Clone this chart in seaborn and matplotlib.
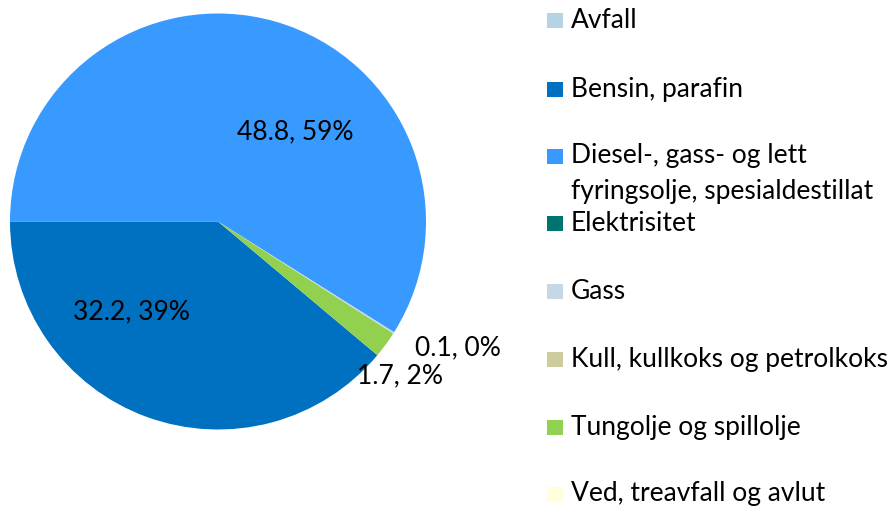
import matplotlib
matplotlib.use('Agg')
import matplotlib.pyplot as plt
from matplotlib.patches import Rectangle
import seaborn as sns

# Energy use by fuel
CATEGORIES = ['Avfall', 'Bensin, parafin',
              'Diesel-, gass- og lett\nfyringsolje, spesialdestillat',
              'Elektrisitet', 'Gass', 'Kull, kullkoks og petrolkoks',
              'Tungolje og spillolje', 'Ved, treavfall og avlut']
VALUES = [0.0, 32.2, 48.8, 0.0, 0.1, 0.0, 1.7, 0.0]
COLORS = ['#B6D3E5', '#0070C0', '#3899FF', '#00736F',
          '#C5D8E3', '#CCCC9F', '#92D050', '#FFFFDB']

# label offsets from pie centre (in radius units), as placed in the original
LABEL_POS = {1: (-0.418, -0.435), 2: (0.37, 0.43),
             4: (1.152, -0.608), 6: (0.876, -0.744)}

sns.set_style('white')
plt.rcParams['font.family'] = ['Lato', 'DejaVu Sans']
FS = 19

W, H = 895, 508
fig = plt.figure(figsize=(W / 100, H / 100), dpi=100)

# pie axes: centre ~ (218, 221.5) px, radius ~208 px
r_px = 208
lim = 1.05
side = 2 * lim * r_px
cx, cy = 218, H - 221.5
ax = fig.add_axes([(cx - side / 2) / W, (cy - side / 2) / H, side / W, side / H])

total = sum(VALUES)
wedges, _ = ax.pie(VALUES, colors=COLORS, startangle=-40, counterclock=False,
                   wedgeprops=dict(linewidth=0))
ax.set_xlim(-lim, lim)
ax.set_ylim(-lim, lim)
ax.set_aspect('equal')
ax.axis('off')

for i, (x, y) in LABEL_POS.items():
    pct = VALUES[i] / total * 100
    ax.text(x, y, f'{VALUES[i]:g}, {pct:.0f}%', ha='center', va='center',
            fontsize=FS, color='black')

# legend drawn by hand so the two-line entry lines up like the original
marker_y = [20.8, 89, 156, 223.5, 291.7, 359, 427.5, 494]
for name, col, my in zip(CATEGORIES, COLORS, marker_y):
    fig.add_artist(Rectangle((547 / W, (H - my - 7.5) / H), 16 / W, 15 / H,
                             transform=fig.transFigure, facecolor=col,
                             edgecolor='none'))
    for k, line in enumerate(name.split('\n')):
        fig.text(571 / W, (H - my - 7.5 - 35 * k) / H, line, ha='left',
                 va='baseline', fontsize=FS, color='black')

fig.savefig('out.png', dpi=100, facecolor='white')
